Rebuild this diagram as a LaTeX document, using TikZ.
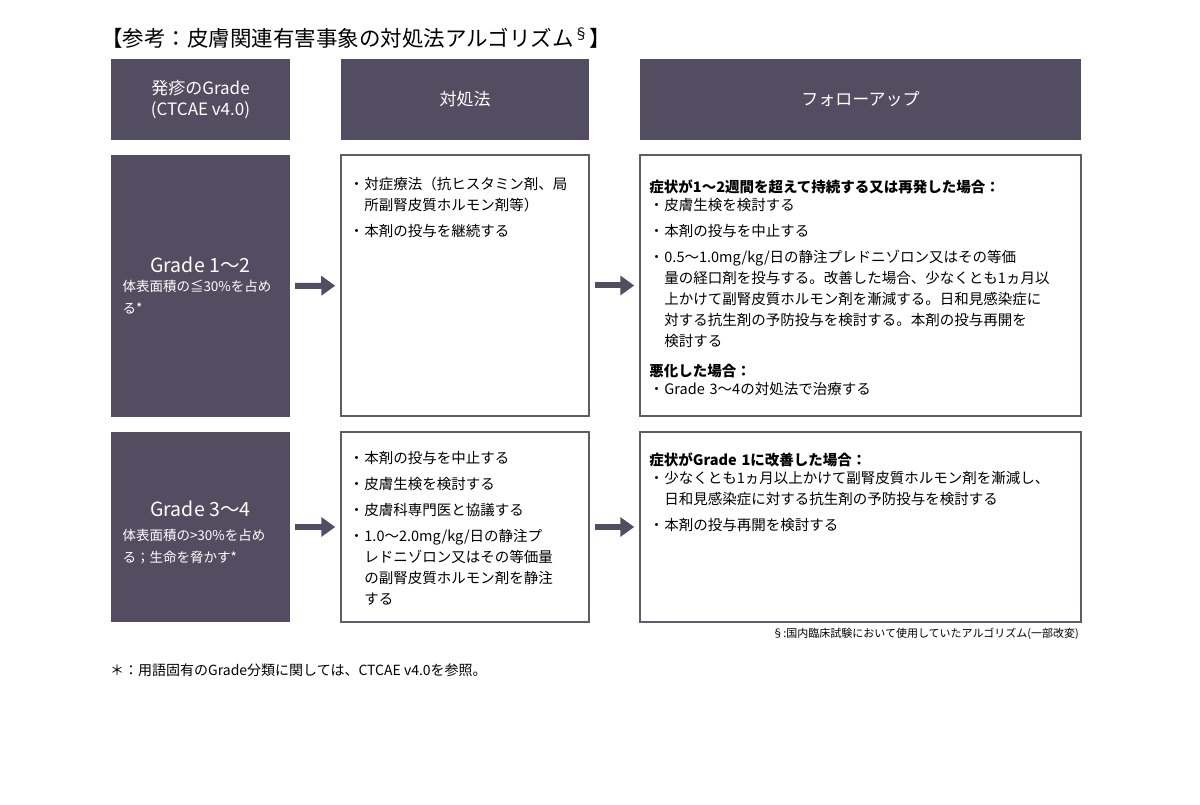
\documentclass[tikz,border=0pt]{standalone}
\usepackage{fontspec}
\setmainfont{Noto Sans CJK JP}
\usetikzlibrary{arrows.meta,positioning}

\definecolor{gradebg}{RGB}{82,77,96}
\definecolor{boxline}{RGB}{95,92,108}

% bullet item with hanging indent, and bold lead line
\newcommand{\itm}[1]{\par\hangindent=15pt\hangafter=1\noindent\makebox[15pt][l]{・}#1}
\newcommand{\hdr}[1]{\par\noindent\textbf{#1}\par\vspace{-8pt}}

\begin{document}
\begin{tikzpicture}[
    x=1pt, y=-1pt,
    head/.style={fill=gradebg, text=white, minimum height=81pt, inner sep=0pt,
                 align=center, font=\fontsize{17}{21}\selectfont},
    grade/.style={fill=gradebg, text=white, minimum width=179pt, inner sep=0pt,
                  text width=156pt, align=left, font=\fontsize{13.5}{22}\selectfont},
    tbox/.style={draw=boxline, line width=1.5pt, fill=white, inner sep=0pt},
    txt/.style={anchor=north west, inner sep=0pt, text width=#1, align=left,
                font=\fontsize{14.5}{21}\selectfont\setlength{\parskip}{5pt}},
    arrow/.style={-{Triangle[length=14pt,width=19pt]}, line width=6pt, draw=gradebg,
                  shorten <=5pt, shorten >=5pt}
]
    \useasboundingbox (0,0) rectangle (1200,805);

    % Title
    \node[anchor=west, inner sep=0pt, font=\fontsize{21.5}{26}\selectfont] (title) at (101,38)
        {【参考：皮膚関連有害事象の対処法アルゴリズム\textsuperscript{§}】};

    % Header row
    \node[head, minimum width=179pt] (hd1) at (200.5,99.5) {発疹のGrade\\(CTCAE v4.0)};
    \node[head, minimum width=248pt] (hd2) at (465,99.5) {対処法};
    \node[head, minimum width=441pt] (hd3) at (860.5,99.5) {フォローアップ};

    % Grade 1-2
    \node[grade, minimum height=262pt] (g12) at (200.5,286)
        {\makebox[156pt]{\fontsize{19.5}{22}\selectfont Grade 1〜2}\\[-3pt]体表面積の≦30\%を占め\\る*};
    \node[tbox, minimum width=248pt, minimum height=261pt] (t12) at (465,285.5) {};
    \node[tbox, minimum width=441pt, minimum height=261pt] (f12) at (860.5,285.5) {};

    \node[txt=236pt] (t12x) at ([shift={(9,9)}]t12.north west) {%
        \itm{対症療法（抗ヒスタミン剤、局\newline 所副腎皮質ホルモン剤等）}
        \itm{本剤の投与を継続する}\par};
    \node[txt=428pt] (f12x) at ([shift={(10,12)}]f12.north west) {%
        \hdr{症状が1〜2週間を超えて持続する又は再発した場合：}
        \itm{皮膚生検を検討する}
        \itm{本剤の投与を中止する}
        \itm{0.5〜1.0mg/kg/日の静注プレドニゾロン又はその等価\newline
             量の経口剤を投与する。改善した場合、少なくとも1ヵ月以\newline
             上かけて副腎皮質ホルモン剤を漸減する。日和見感染症に\newline
             対する抗生剤の予防投与を検討する。本剤の投与再開を\newline
             検討する}
        \par\vspace{4pt}
        \hdr{悪化した場合：}
        \itm{Grade 3〜4の対処法で治療する}\par};

    % Grade 3-4
    \node[grade, minimum height=190pt] (g34) at (200.5,527)
        {\makebox[156pt]{\rule{0pt}{27pt}\fontsize{19.5}{22}\selectfont Grade 3〜4}\\[2pt]体表面積の>30\%を占め\\る；生命を脅かす*};
    \node[tbox, minimum width=248pt, minimum height=190pt] (t34) at (465,527) {};
    \node[tbox, minimum width=441pt, minimum height=190pt] (f34) at (860.5,527) {};

    \node[txt=236pt] (t34x) at ([shift={(9,6)}]t34.north west) {%
        \itm{本剤の投与を中止する}
        \itm{皮膚生検を検討する}
        \itm{皮膚科専門医と協議する}
        \itm{1.0〜2.0mg/kg/日の静注プ\newline レドニゾロン又はその等価量\newline
             の副腎皮質ホルモン剤を静注\newline する}\par};
    \node[txt=428pt] (f34x) at ([shift={(10,8)}]f34.north west) {%
        \hdr{症状がGrade 1に改善した場合：}
        \itm{少なくとも1ヵ月以上かけて副腎皮質ホルモン剤を漸減し、\newline
             日和見感染症に対する抗生剤の予防投与を検討する}
        \itm{本剤の投与再開を検討する}\par};

    % Arrows
    \draw[arrow] (g12) -- (t12);
    \draw[arrow] (t12) -- (f12);
    \draw[arrow] (g34) -- (t34);
    \draw[arrow] (t34) -- (f34);

    % Footnotes
    \node[anchor=east, inner sep=0pt, font=\fontsize{11}{14}\selectfont] (note1) at (1079,634)
        {§:国内臨床試験において使用していたアルゴリズム(一部改変)};
    \node[anchor=west, inner sep=0pt, font=\fontsize{14}{17}\selectfont] (note2) at (110,670)
        {＊：用語固有のGrade分類に関しては、CTCAE v4.0を参照。};
\end{tikzpicture}
\end{document}
